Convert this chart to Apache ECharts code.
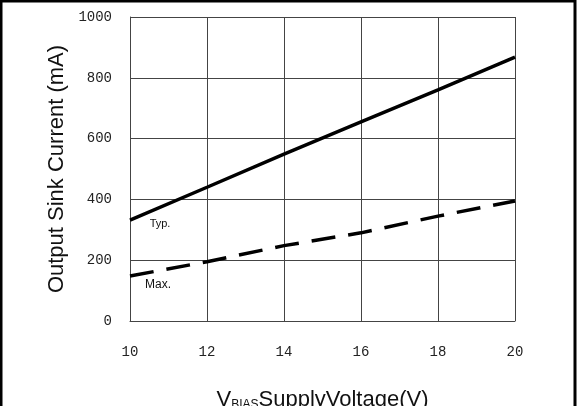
<!DOCTYPE html>
<html>
<head>
<meta charset="utf-8">
<script src="https://cdn.jsdelivr.net/npm/echarts@6/dist/echarts.min.js"></script>
<style>
  html, body { margin: 0; padding: 0; background: #fff; }
  #chart { width: 577px; height: 406px; }
</style>
</head>
<body>
<div id="chart"></div>
<script>
// supply voltage (V)
const voltage = [10, 12, 14, 16, 18, 20]
// sink current, typical (mA)
const typCurrent = [332, 440, 549, 655, 760, 868]
// sink current, max curve (mA)
const maxCurrent = [148, 195, 248, 290, 345, 395]

const tickFont = {
  fontFamily: 'Liberation Mono',
  fontSize: 14,
  color: '#222'
}

const chart = echarts.init(document.getElementById('chart'))
chart.setOption({
  animation: false,
  backgroundColor: '#fff',
  grid: {
    left: 130,
    right: 62,
    top: 17,
    bottom: 85,
    outerBoundsMode: 'none'
  },
  xAxis: {
    type: 'value',
    min: 10,
    max: 20,
    interval: 2,
    axisLine: { show: true, lineStyle: { color: '#444', width: 1 } },
    axisTick: { show: false },
    splitLine: { show: true, lineStyle: { color: '#444', width: 1 } },
    axisLabel: Object.assign({ margin: 24, formatter: v => String(v) }, tickFont),
    name: '{v|V}{sub|BIAS}{v|SupplyVoltage(V)}',
    nameLocation: 'middle',
    nameGap: 68,
    nameTextStyle: {
      rich: {
        v: { fontFamily: 'Liberation Sans', fontSize: 22, color: '#111' },
        sub: { fontFamily: 'Liberation Sans', fontSize: 12, color: '#111', verticalAlign: 'bottom', padding: [10, 0, 0, 0] }
      }
    }
  },
  yAxis: {
    type: 'value',
    min: 0,
    max: 1000,
    interval: 200,
    axisLine: { show: true, lineStyle: { color: '#444', width: 1 } },
    axisTick: { show: false },
    splitLine: { show: true, lineStyle: { color: '#444', width: 1 } },
    axisLabel: Object.assign({ margin: 18, formatter: v => String(v) }, tickFont),
    name: 'Output Sink Current (mA)',
    nameLocation: 'middle',
    nameGap: 55,
    nameTextStyle: { fontFamily: 'Liberation Sans', fontSize: 22, color: '#111' }
  },
  series: [{
    name: 'Typ.',
    type: 'line',
    data: voltage.map((v, i) => [v, typCurrent[i]]),
    showSymbol: false,
    lineStyle: { color: '#000', width: 3.5 },
    markPoint: {
      symbolSize: 0,
      label: { show: true, formatter: 'Typ.', fontFamily: 'Liberation Sans', fontSize: 11, color: '#111' },
      data: [{ coord: [10.78, 318] }]
    }
  }, {
    name: 'Max.',
    type: 'line',
    data: voltage.map((v, i) => [v, maxCurrent[i]]),
    showSymbol: false,
    lineStyle: { color: '#000', width: 3.5, type: [24, 13] },
    markPoint: {
      symbolSize: 0,
      label: { show: true, formatter: 'Max.', fontFamily: 'Liberation Sans', fontSize: 12, color: '#111' },
      data: [{ coord: [10.73, 118] }]
    }
  }],
  graphic: [{
    type: 'rect',
    shape: { x: 1, y: 1, width: 574, height: 420 },
    style: { fill: 'none', stroke: '#000', lineWidth: 3 }
  }]
})
</script>
</body>
</html>
